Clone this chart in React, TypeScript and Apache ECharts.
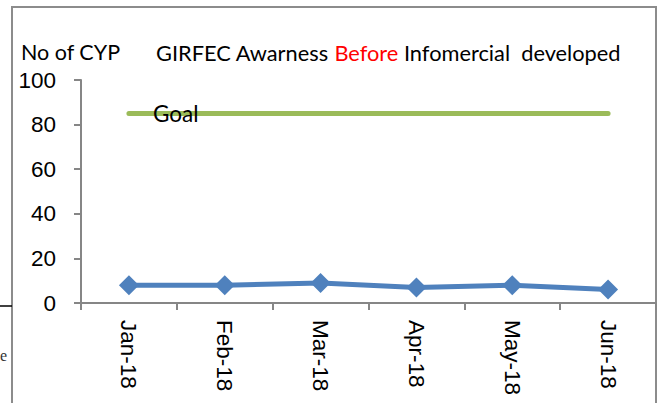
import React, { useEffect, useRef } from "react";
import * as echarts from "echarts";

const categories = ["Jan-18", "Feb-18", "Mar-18", "Apr-18", "May-18", "Jun-18"];
const cypValues = [8, 8, 9, 7, 8, 6];
const goalValues = [85, 85, 85, 85, 85, 85];
const yTicks = { min: 0, max: 100, interval: 20 };

export default function App() {
  const ref = useRef<HTMLDivElement>(null);
  useEffect(() => {
    if (!ref.current) return;
    const chart = echarts.init(ref.current, undefined, { renderer: "svg" });
    const axisFont = "'Liberation Sans', Arial, sans-serif";
    const titleFont = "Lato, 'Noto Sans', sans-serif";
    chart.setOption({
      animation: false,
      backgroundColor: "#ffffff",
      title: [
        {
          text: "No of CYP",
          left: 16,
          top: 36,
          textStyle: { fontFamily: titleFont, fontSize: 21.5, fontWeight: "normal", color: "#000" },
        },
        {
          text: "{a|GIRFEC Awarness }{b|Before}{a| Infomercial  developed}",
          left: 151,
          top: 36,
          textStyle: {
            fontWeight: "normal",
            rich: {
              a: { fontFamily: titleFont, fontSize: 21.8, fontWeight: "normal", color: "#000" },
              b: { fontFamily: titleFont, fontSize: 21.8, fontWeight: "normal", color: "#ff0000" },
            },
          },
        },
      ],
      grid: { left: 81, right: 2, top: 80, bottom: 100, containLabel: false },
      xAxis: {
        type: "category",
        data: categories,
        boundaryGap: true,
        axisLine: { lineStyle: { color: "#868686", width: 2 } },
        axisTick: { show: true, length: 7, lineStyle: { color: "#868686", width: 2 } },
        axisLabel: {
          rotate: -90,
          margin: 17,
          fontFamily: axisFont,
          fontSize: 22.5,
          color: "#000",
        },
      },
      yAxis: {
        type: "value",
        min: yTicks.min,
        max: yTicks.max,
        interval: yTicks.interval,
        axisLine: { show: true, lineStyle: { color: "#868686", width: 2 } },
        axisTick: { show: true, length: 7, lineStyle: { color: "#868686", width: 2 } },
        splitLine: { show: false },
        axisLabel: { margin: 25, fontFamily: axisFont, fontSize: 22.5, color: "#000" },
      },
      series: [
        {
          name: "Goal",
          type: "line",
          data: goalValues.map((v, i) =>
            i === 0
              ? {
                  value: v,
                  label: {
                    show: true,
                    position: "right",
                    distance: 24,
                    formatter: "Goal",
                    fontFamily: titleFont,
                    fontSize: 22.5,
                    color: "#000",
                  },
                }
              : v
          ),
          symbol: "circle",
          symbolSize: 0,
          showSymbol: true,
          lineStyle: { color: "#9BBB59", width: 5, cap: "round" },
          itemStyle: { color: "#9BBB59" },
          z: 2,
        },
        {
          name: "CYP",
          type: "line",
          data: cypValues,
          symbol: "diamond",
          symbolSize: 20,
          lineStyle: { color: "#4F81BD", width: 5 },
          itemStyle: { color: "#4F81BD" },
          z: 3,
        },
      ],
      graphic: [
        {
          type: "polyline",
          shape: { points: [[12, 403], [12, 7], [656, 7], [656, 403]] },
          style: { stroke: "#8c8c8c", lineWidth: 2, fill: "none" },
          silent: true,
        },
        {
          type: "line",
          shape: { x1: 0, y1: 306, x2: 12, y2: 306 },
          style: { stroke: "#000", lineWidth: 1.5 },
          silent: true,
        },
        {
          type: "text",
          left: 0,
          top: 347,
          style: { text: "e", font: "16px 'Liberation Serif', serif", fill: "#333" },
          silent: true,
        },
      ],
    });
    return () => chart.dispose();
  }, []);
  return (
    <div
      ref={ref}
      style={{ position: "fixed", left: 0, top: 0, width: 658, height: 403 }}
    />
  );
}
